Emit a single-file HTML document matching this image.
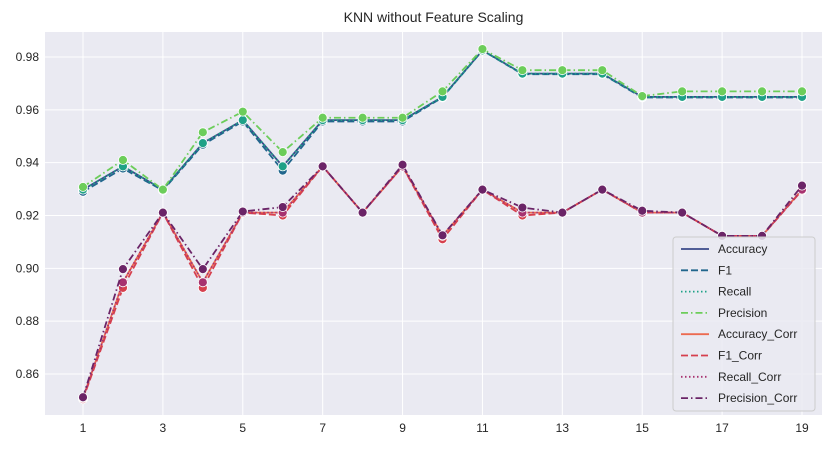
<!DOCTYPE html>
<html><head><meta charset="utf-8"><style>
body{margin:0;background:#fff;font-family:"Liberation Sans",Arial,sans-serif}
svg text{font-family:"Liberation Sans",Arial,sans-serif;fill:#262626}
</style></head><body>
<svg id="c" width="831" height="449"></svg>
<script>
const ks=[1,2,3,4,5,6,7,8,9,10,11,12,13,14,15,16,17,18,19];
const accuracy=[0.9298,0.9386,0.9298,0.9474,0.9561,0.9386,0.9561,0.9561,0.9561,0.9649,0.9825,0.9737,0.9737,0.9737,0.9649,0.9649,0.9649,0.9649,0.9649];
const f1=[0.9290,0.9378,0.9295,0.9468,0.9556,0.9370,0.9556,0.9556,0.9556,0.9647,0.9825,0.9735,0.9735,0.9735,0.9647,0.9647,0.9647,0.9647,0.9647];
const recall=[0.9298,0.9386,0.9298,0.9474,0.9561,0.9386,0.9561,0.9561,0.9561,0.9649,0.9825,0.9737,0.9737,0.9737,0.9649,0.9649,0.9649,0.9649,0.9649];
const precision=[0.9308,0.9410,0.9298,0.9515,0.9593,0.9440,0.9570,0.9570,0.9570,0.9670,0.9830,0.9750,0.9750,0.9750,0.9652,0.9670,0.9670,0.9670,0.9670];
const accuracyCorr=[0.8509,0.8947,0.9211,0.8947,0.9211,0.9211,0.9386,0.9211,0.9386,0.9123,0.9298,0.9211,0.9211,0.9298,0.9211,0.9211,0.9123,0.9123,0.9298];
const f1Corr=[0.8505,0.8926,0.9211,0.8926,0.9211,0.9200,0.9386,0.9211,0.9386,0.9110,0.9298,0.9200,0.9211,0.9298,0.9211,0.9211,0.9123,0.9123,0.9295];
const recallCorr=[0.8509,0.8947,0.9211,0.8947,0.9211,0.9211,0.9386,0.9211,0.9386,0.9123,0.9298,0.9211,0.9211,0.9298,0.9211,0.9211,0.9123,0.9123,0.9298];
const precisionCorr=[0.8512,0.8997,0.9211,0.8997,0.9215,0.9232,0.9386,0.9211,0.9392,0.9125,0.9298,0.9230,0.9211,0.9298,0.9218,0.9211,0.9123,0.9123,0.9313];
const yTicks=[0.86,0.88,0.90,0.92,0.94,0.96,0.98];
const xTicks=[1,3,5,7,9,11,13,15,17,19];
const seriesNames=["Accuracy","F1","Recall","Precision","Accuracy_Corr","F1_Corr","Recall_Corr","Precision_Corr"];
const seriesData=[accuracy,f1,recall,precision,accuracyCorr,f1Corr,recallCorr,precisionCorr];
const colors=["#3b4a8a","#21668d","#1fa187","#6ccd5a","#ec6a50","#d6404e","#a8326f","#6b2467"];
const dashes=["","7,3","1.5,2.5","7,3,1.5,3","","7,3","1.5,2.5","7,3,1.5,3"];
const L=45,R=822,T=32,B=415;
const x=v=>83+(v-1)*(802-83)/18;
const y=v=>57+(0.98-v)*(374-57)/0.12;
const svg=document.getElementById('c');const NS="http://www.w3.org/2000/svg";
function mk(t,a,p){const e=document.createElementNS(NS,t);for(const k in a)e.setAttribute(k,a[k]);(p||svg).appendChild(e);return e;}
let bg=mk('rect',{x:L,y:T,width:R-L,height:B-T,fill:'#eaeaf2'});


yTicks.forEach(v=>{let g=mk('line',{x1:L,x2:R,y1:y(v),y2:y(v),stroke:'#fff','stroke-width':1});


let t=mk('text',{x:L-6,y:y(v)+4,'text-anchor':'end','font-size':12});t.textContent=v.toFixed(2);

});
xTicks.forEach(v=>{let g=mk('line',{x1:x(v),x2:x(v),y1:T,y2:B,stroke:'#fff','stroke-width':1});


let t=mk('text',{x:x(v),y:B+17,'text-anchor':'middle','font-size':12});t.textContent=v;

});
seriesData.forEach((d,i)=>{
 let p=mk('polyline',{points:d.map((v,j)=>x(ks[j])+','+y(v)).join(' '),fill:'none',stroke:colors[i],'stroke-width':1.8,'stroke-dasharray':dashes[i]});
 
 
 d.forEach((v,j)=>{let c=mk('circle',{cx:x(ks[j]),cy:y(v),r:4.5,fill:colors[i],stroke:'#fff','stroke-width':0.8});
 
 });
});
let ti=mk('text',{x:(L+R)/2,y:22,'text-anchor':'middle','font-size':14});ti.textContent='KNN without Feature Scaling';


let lg=mk('rect',{x:673,y:237,width:142,height:174,rx:3,fill:'#eaeaf2','fill-opacity':0.85,stroke:'#cccccc'});


seriesNames.forEach((n,i)=>{const yy=249+i*21.3;
 let l=mk('line',{x1:681,x2:709,y1:yy,y2:yy,stroke:colors[i],'stroke-width':1.8,'stroke-dasharray':dashes[i]});
 
 
 let t=mk('text',{x:718,y:yy+4,'font-size':12});t.textContent=n;
 
 
});
</script>
</body></html>
